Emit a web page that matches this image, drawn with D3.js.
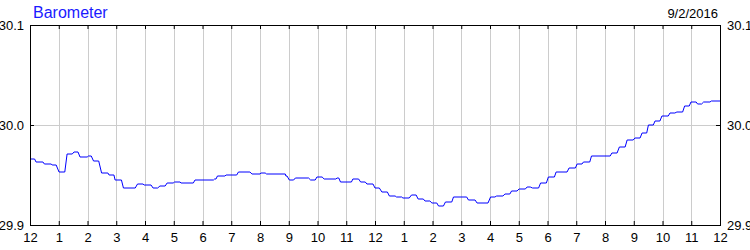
<!DOCTYPE html>
<html>
<head>
<meta charset="utf-8">
<script src="https://cdn.jsdelivr.net/npm/d3@7"></script>
<style>
  body { margin: 0; background: #fff; }
  svg { display: block; font-family: "Liberation Sans", Arial, sans-serif; }
</style>
</head>
<body>
<div id="root"></div>
<script>
const width = 750;
const height = 250;
const margin = { top: 25, right: 30, bottom: 25, left: 30 };

const chartTitle = "Barometer";
const chartDate = "9/2/2016";

// hours since midnight, 0..24
const hourTicks = d3.range(0, 25);
const hourLabels = ["12", "1", "2", "3", "4", "5", "6", "7", "8", "9", "10", "11",
  "12", "1", "2", "3", "4", "5", "6", "7", "8", "9", "10", "11", "12"];
const pressureTicks = [29.9, 30.0, 30.1];

// readings held flat from stepStart to stepEnd (hours), in inHg
const stepStart = [0.00, 0.21, 0.50, 0.77, 1.01, 1.29, 1.53, 1.74, 2.03, 2.21, 2.49, 2.75, 2.96, 3.25, 3.74, 3.97,
  4.28, 4.52, 4.77, 5.03, 5.25, 5.74, 6.42, 6.52, 6.82, 7.25, 7.72, 8.03, 8.23, 8.90, 9.02, 9.23,
  9.76, 9.98, 10.23, 10.68, 10.80, 11.23, 11.50, 11.72, 12.00, 12.24, 12.50, 12.75, 12.97, 13.27, 13.50, 13.74,
  13.98, 14.21, 14.45, 14.73, 15.25, 15.55, 16.02, 16.23, 16.52, 16.75, 17.01, 17.29, 17.48, 17.76, 18.03, 18.30,
  18.75, 19.03, 19.25, 19.53, 20.24, 20.50, 20.77, 21.04, 21.29, 21.51, 21.74, 21.98, 22.26, 22.50, 22.77, 22.99,
  23.22, 23.43, 23.70];
const stepEnd = [0.16, 0.45, 0.74, 0.91, 1.21, 1.47, 1.67, 1.99, 2.13, 2.39, 2.71, 2.92, 3.18, 3.66, 3.93, 4.21,
  4.44, 4.70, 4.98, 5.22, 5.68, 6.38, 6.47, 6.78, 7.19, 7.65, 8.00, 8.18, 8.88, 8.94, 9.17, 9.69,
  9.92, 10.16, 10.64, 10.74, 11.18, 11.43, 11.66, 11.93, 12.15, 12.43, 12.70, 12.93, 13.19, 13.43, 13.68, 13.91,
  14.15, 14.38, 14.67, 15.19, 15.48, 15.93, 16.17, 16.45, 16.69, 16.94, 17.23, 17.40, 17.69, 17.96, 18.24, 18.68,
  18.97, 19.20, 19.47, 20.18, 20.42, 20.70, 20.98, 21.22, 21.45, 21.68, 21.91, 22.20, 22.43, 22.70, 22.93, 23.17,
  23.36, 23.65, 24.00];
const stepValue = [29.966, 29.963, 29.961, 29.960, 29.953, 29.971, 29.973, 29.968, 29.969, 29.964, 29.952, 29.950, 29.945, 29.937, 29.941, 29.940,
  29.937, 29.939, 29.942, 29.943, 29.942, 29.945, 29.946, 29.949, 29.950, 29.953, 29.951, 29.952, 29.951, 29.949, 29.945, 29.947,
  29.945, 29.948, 29.946, 29.947, 29.943, 29.946, 29.943, 29.941, 29.937, 29.933, 29.929, 29.928, 29.927, 29.930, 29.926, 29.924,
  29.922, 29.919, 29.923, 29.928, 29.925, 29.922, 29.928, 29.929, 29.931, 29.934, 29.936, 29.938, 29.937, 29.942, 29.948, 29.953,
  29.957, 29.961, 29.963, 29.969, 29.972, 29.978, 29.985, 29.987, 29.992, 30.000, 30.004, 30.009, 30.012, 30.013, 30.019, 30.023,
  30.021, 30.023, 30.024];

const points = [];
stepValue.forEach((v, i) => {
  points.push([stepStart[i], v]);
  points.push([stepEnd[i], v]);
});

const svg = d3.select("#root")
  .append("svg")
  .attr("width", width)
  .attr("height", height);

const x = d3.scaleLinear().domain([0, 24]).range([margin.left, width - margin.right]);
const y = d3.scaleLinear().domain([29.9, 30.1]).range([height - margin.bottom, margin.top]);

const crisp = (v) => Math.round(v) + 0.5;

// grid
const grid = svg.append("g").attr("stroke", "#cccccc").attr("stroke-width", 1);
grid.selectAll("line.v")
  .data(hourTicks.slice(1, -1))
  .enter()
  .append("line")
  .attr("class", "v")
  .attr("x1", (d) => crisp(x(d)))
  .attr("x2", (d) => crisp(x(d)))
  .attr("y1", y(30.1))
  .attr("y2", y(29.9));
grid.selectAll("line.h")
  .data(pressureTicks.slice(1, -1))
  .enter()
  .append("line")
  .attr("class", "h")
  .attr("x1", x(0))
  .attr("x2", x(24))
  .attr("y1", (d) => crisp(y(d)))
  .attr("y2", (d) => crisp(y(d)));

// pressure line
const line = d3.line()
  .x((d) => x(d[0]))
  .y((d) => y(d[1]));

svg.append("path")
  .datum(points)
  .attr("fill", "none")
  .attr("stroke", "#0000ff")
  .attr("stroke-width", 1)
  .attr("d", line);

// axes, ticks pointing inward
const styleAxis = (g) => {
  g.select(".domain").remove();
  g.selectAll(".tick line").attr("stroke", "#000");
  g.selectAll(".tick text").attr("fill", "#000").style("font-size", "13px");
};

svg.append("g")
  .attr("transform", `translate(0,${y(29.9)})`)
  .call(d3.axisBottom(x).tickValues(hourTicks).tickSize(-4).tickPadding(8)
    .tickFormat((d, i) => hourLabels[i]))
  .call(styleAxis);

svg.append("g")
  .attr("transform", `translate(0,${y(30.1)})`)
  .call(d3.axisTop(x).tickValues(hourTicks).tickSize(-4).tickFormat(""))
  .call(styleAxis);

svg.append("g")
  .attr("transform", `translate(${x(0)},0)`)
  .call(d3.axisLeft(y).tickValues(pressureTicks).tickSize(-4).tickPadding(6)
    .tickFormat(d3.format(".1f")))
  .call(styleAxis);

svg.append("g")
  .attr("transform", `translate(${x(24)},0)`)
  .call(d3.axisRight(y).tickValues(pressureTicks).tickSize(-4).tickPadding(7)
    .tickFormat(d3.format(".1f")))
  .call(styleAxis);

// frame
svg.append("rect")
  .attr("x", x(0) + 0.5)
  .attr("y", y(30.1) + 0.5)
  .attr("width", x(24) - x(0))
  .attr("height", y(29.9) - y(30.1))
  .attr("fill", "none")
  .attr("stroke", "#000");

// titles
svg.append("text")
  .attr("x", 33)
  .attr("y", 18)
  .attr("fill", "#1a1aff")
  .style("font-size", "16px")
  .text(chartTitle);

svg.append("text")
  .attr("x", 718)
  .attr("y", 18)
  .attr("text-anchor", "end")
  .attr("fill", "#000")
  .style("font-size", "13px")
  .text(chartDate);
</script>
</body>
</html>
